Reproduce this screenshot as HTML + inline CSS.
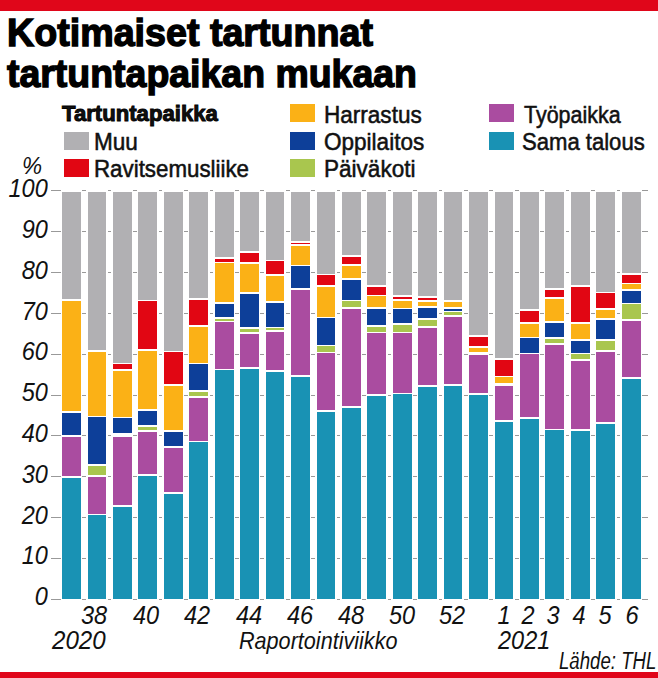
<!DOCTYPE html>
<html><head><meta charset="utf-8">
<style>
html,body{margin:0;padding:0;background:#fff;}
body{width:658px;height:678px;position:relative;overflow:hidden;font-family:"Liberation Sans",sans-serif;color:#111;}
.gl{position:absolute;height:1px;background:#999;}
.s{position:absolute;}
.tx{position:absolute;white-space:nowrap;transform-origin:0 0;line-height:1;}
.sq{position:absolute;width:25px;height:18px;}
.it{font-style:italic;}
.lg{font-size:24.5px;transform:scaleX(0.92);-webkit-text-stroke:0.55px #111;}
</style></head><body>
<div style="position:absolute;left:0;top:0;width:658px;height:11px;background:#e0061a"></div>
<div style="position:absolute;left:0;top:672px;width:658px;height:6px;background:#e0061a"></div>
<div class="tx" id="t1" style="left:7px;top:13.1px;font-size:39.5px;font-weight:bold;-webkit-text-stroke:1.4px #000;color:#000;transform:scaleX(0.953)">Kotimaiset tartunnat</div>
<div class="tx" id="t2" style="left:7px;top:54.1px;font-size:39.5px;font-weight:bold;-webkit-text-stroke:1.4px #000;color:#000;transform:scaleX(0.948)">tartuntapaikan mukaan</div>
<div class="tx" id="lh" style="left:61.5px;top:104px;font-size:21.5px;font-weight:bold;-webkit-text-stroke:0.9px #000;transform:scaleX(1.03)">Tartuntapaikka</div>
<div class="sq" style="left:63.5px;top:131.5px;background:#b1b0b3"></div>
<div class="sq" style="left:63.5px;top:159px;background:#e10613"></div>
<div class="sq" style="left:290px;top:103.5px;background:#fbb116"></div>
<div class="sq" style="left:290px;top:131.5px;background:#0d3f99"></div>
<div class="sq" style="left:290px;top:159px;background:#a9c64e"></div>
<div class="sq" style="left:489px;top:103.5px;background:#aa4ca0"></div>
<div class="sq" style="left:489px;top:131.5px;background:#1992b4"></div>
<div class="tx lg" id="l1" style="left:94px;top:130px">Muu</div>
<div class="tx lg" id="l2" style="left:94px;top:157px;transform:scaleX(0.911)">Ravitsemusliike</div>
<div class="tx lg" id="l3" style="left:324px;top:102.5px">Harrastus</div>
<div class="tx lg" id="l4" style="left:324px;top:130px">Oppilaitos</div>
<div class="tx lg" id="l5" style="left:324px;top:157px">Päiväkoti</div>
<div class="tx lg" id="l6" style="left:523.5px;top:102.5px;transform:scaleX(0.876)">Työpaikka</div>
<div class="tx lg" id="l7" style="left:522.3px;top:130px;transform:scaleX(0.901)">Sama talous</div>
<div class="gl" style="left:51px;top:599px;width:10px"></div>
<div class="gl" style="left:82.40px;top:599px;width:3.64px"></div>
<div class="gl" style="left:107.84px;top:599px;width:3.64px"></div>
<div class="gl" style="left:133.28px;top:599px;width:3.64px"></div>
<div class="gl" style="left:158.72px;top:599px;width:3.64px"></div>
<div class="gl" style="left:184.16px;top:599px;width:3.64px"></div>
<div class="gl" style="left:209.60px;top:599px;width:3.64px"></div>
<div class="gl" style="left:235.04px;top:599px;width:3.64px"></div>
<div class="gl" style="left:260.48px;top:599px;width:3.64px"></div>
<div class="gl" style="left:285.92px;top:599px;width:3.64px"></div>
<div class="gl" style="left:311.36px;top:599px;width:3.64px"></div>
<div class="gl" style="left:336.80px;top:599px;width:3.64px"></div>
<div class="gl" style="left:362.24px;top:599px;width:3.64px"></div>
<div class="gl" style="left:387.68px;top:599px;width:3.64px"></div>
<div class="gl" style="left:413.12px;top:599px;width:3.64px"></div>
<div class="gl" style="left:438.56px;top:599px;width:3.64px"></div>
<div class="gl" style="left:464.00px;top:599px;width:3.64px"></div>
<div class="gl" style="left:489.44px;top:599px;width:3.64px"></div>
<div class="gl" style="left:514.88px;top:599px;width:3.64px"></div>
<div class="gl" style="left:540.32px;top:599px;width:3.64px"></div>
<div class="gl" style="left:565.76px;top:599px;width:3.64px"></div>
<div class="gl" style="left:591.20px;top:599px;width:3.64px"></div>
<div class="gl" style="left:616.64px;top:599px;width:3.64px"></div>
<div class="gl" style="left:642.08px;top:599px;width:5.62px"></div>
<div class="gl" style="left:51px;top:558px;width:10px"></div>
<div class="gl" style="left:82.40px;top:558px;width:3.64px"></div>
<div class="gl" style="left:107.84px;top:558px;width:3.64px"></div>
<div class="gl" style="left:133.28px;top:558px;width:3.64px"></div>
<div class="gl" style="left:158.72px;top:558px;width:3.64px"></div>
<div class="gl" style="left:184.16px;top:558px;width:3.64px"></div>
<div class="gl" style="left:209.60px;top:558px;width:3.64px"></div>
<div class="gl" style="left:235.04px;top:558px;width:3.64px"></div>
<div class="gl" style="left:260.48px;top:558px;width:3.64px"></div>
<div class="gl" style="left:285.92px;top:558px;width:3.64px"></div>
<div class="gl" style="left:311.36px;top:558px;width:3.64px"></div>
<div class="gl" style="left:336.80px;top:558px;width:3.64px"></div>
<div class="gl" style="left:362.24px;top:558px;width:3.64px"></div>
<div class="gl" style="left:387.68px;top:558px;width:3.64px"></div>
<div class="gl" style="left:413.12px;top:558px;width:3.64px"></div>
<div class="gl" style="left:438.56px;top:558px;width:3.64px"></div>
<div class="gl" style="left:464.00px;top:558px;width:3.64px"></div>
<div class="gl" style="left:489.44px;top:558px;width:3.64px"></div>
<div class="gl" style="left:514.88px;top:558px;width:3.64px"></div>
<div class="gl" style="left:540.32px;top:558px;width:3.64px"></div>
<div class="gl" style="left:565.76px;top:558px;width:3.64px"></div>
<div class="gl" style="left:591.20px;top:558px;width:3.64px"></div>
<div class="gl" style="left:616.64px;top:558px;width:3.64px"></div>
<div class="gl" style="left:642.08px;top:558px;width:5.62px"></div>
<div class="gl" style="left:51px;top:517px;width:10px"></div>
<div class="gl" style="left:82.40px;top:517px;width:3.64px"></div>
<div class="gl" style="left:107.84px;top:517px;width:3.64px"></div>
<div class="gl" style="left:133.28px;top:517px;width:3.64px"></div>
<div class="gl" style="left:158.72px;top:517px;width:3.64px"></div>
<div class="gl" style="left:184.16px;top:517px;width:3.64px"></div>
<div class="gl" style="left:209.60px;top:517px;width:3.64px"></div>
<div class="gl" style="left:235.04px;top:517px;width:3.64px"></div>
<div class="gl" style="left:260.48px;top:517px;width:3.64px"></div>
<div class="gl" style="left:285.92px;top:517px;width:3.64px"></div>
<div class="gl" style="left:311.36px;top:517px;width:3.64px"></div>
<div class="gl" style="left:336.80px;top:517px;width:3.64px"></div>
<div class="gl" style="left:362.24px;top:517px;width:3.64px"></div>
<div class="gl" style="left:387.68px;top:517px;width:3.64px"></div>
<div class="gl" style="left:413.12px;top:517px;width:3.64px"></div>
<div class="gl" style="left:438.56px;top:517px;width:3.64px"></div>
<div class="gl" style="left:464.00px;top:517px;width:3.64px"></div>
<div class="gl" style="left:489.44px;top:517px;width:3.64px"></div>
<div class="gl" style="left:514.88px;top:517px;width:3.64px"></div>
<div class="gl" style="left:540.32px;top:517px;width:3.64px"></div>
<div class="gl" style="left:565.76px;top:517px;width:3.64px"></div>
<div class="gl" style="left:591.20px;top:517px;width:3.64px"></div>
<div class="gl" style="left:616.64px;top:517px;width:3.64px"></div>
<div class="gl" style="left:642.08px;top:517px;width:5.62px"></div>
<div class="gl" style="left:51px;top:476px;width:10px"></div>
<div class="gl" style="left:82.40px;top:476px;width:3.64px"></div>
<div class="gl" style="left:107.84px;top:476px;width:3.64px"></div>
<div class="gl" style="left:133.28px;top:476px;width:3.64px"></div>
<div class="gl" style="left:158.72px;top:476px;width:3.64px"></div>
<div class="gl" style="left:184.16px;top:476px;width:3.64px"></div>
<div class="gl" style="left:209.60px;top:476px;width:3.64px"></div>
<div class="gl" style="left:235.04px;top:476px;width:3.64px"></div>
<div class="gl" style="left:260.48px;top:476px;width:3.64px"></div>
<div class="gl" style="left:285.92px;top:476px;width:3.64px"></div>
<div class="gl" style="left:311.36px;top:476px;width:3.64px"></div>
<div class="gl" style="left:336.80px;top:476px;width:3.64px"></div>
<div class="gl" style="left:362.24px;top:476px;width:3.64px"></div>
<div class="gl" style="left:387.68px;top:476px;width:3.64px"></div>
<div class="gl" style="left:413.12px;top:476px;width:3.64px"></div>
<div class="gl" style="left:438.56px;top:476px;width:3.64px"></div>
<div class="gl" style="left:464.00px;top:476px;width:3.64px"></div>
<div class="gl" style="left:489.44px;top:476px;width:3.64px"></div>
<div class="gl" style="left:514.88px;top:476px;width:3.64px"></div>
<div class="gl" style="left:540.32px;top:476px;width:3.64px"></div>
<div class="gl" style="left:565.76px;top:476px;width:3.64px"></div>
<div class="gl" style="left:591.20px;top:476px;width:3.64px"></div>
<div class="gl" style="left:616.64px;top:476px;width:3.64px"></div>
<div class="gl" style="left:642.08px;top:476px;width:5.62px"></div>
<div class="gl" style="left:51px;top:435px;width:10px"></div>
<div class="gl" style="left:82.40px;top:435px;width:3.64px"></div>
<div class="gl" style="left:107.84px;top:435px;width:3.64px"></div>
<div class="gl" style="left:133.28px;top:435px;width:3.64px"></div>
<div class="gl" style="left:158.72px;top:435px;width:3.64px"></div>
<div class="gl" style="left:184.16px;top:435px;width:3.64px"></div>
<div class="gl" style="left:209.60px;top:435px;width:3.64px"></div>
<div class="gl" style="left:235.04px;top:435px;width:3.64px"></div>
<div class="gl" style="left:260.48px;top:435px;width:3.64px"></div>
<div class="gl" style="left:285.92px;top:435px;width:3.64px"></div>
<div class="gl" style="left:311.36px;top:435px;width:3.64px"></div>
<div class="gl" style="left:336.80px;top:435px;width:3.64px"></div>
<div class="gl" style="left:362.24px;top:435px;width:3.64px"></div>
<div class="gl" style="left:387.68px;top:435px;width:3.64px"></div>
<div class="gl" style="left:413.12px;top:435px;width:3.64px"></div>
<div class="gl" style="left:438.56px;top:435px;width:3.64px"></div>
<div class="gl" style="left:464.00px;top:435px;width:3.64px"></div>
<div class="gl" style="left:489.44px;top:435px;width:3.64px"></div>
<div class="gl" style="left:514.88px;top:435px;width:3.64px"></div>
<div class="gl" style="left:540.32px;top:435px;width:3.64px"></div>
<div class="gl" style="left:565.76px;top:435px;width:3.64px"></div>
<div class="gl" style="left:591.20px;top:435px;width:3.64px"></div>
<div class="gl" style="left:616.64px;top:435px;width:3.64px"></div>
<div class="gl" style="left:642.08px;top:435px;width:5.62px"></div>
<div class="gl" style="left:51px;top:395px;width:10px"></div>
<div class="gl" style="left:82.40px;top:395px;width:3.64px"></div>
<div class="gl" style="left:107.84px;top:395px;width:3.64px"></div>
<div class="gl" style="left:133.28px;top:395px;width:3.64px"></div>
<div class="gl" style="left:158.72px;top:395px;width:3.64px"></div>
<div class="gl" style="left:184.16px;top:395px;width:3.64px"></div>
<div class="gl" style="left:209.60px;top:395px;width:3.64px"></div>
<div class="gl" style="left:235.04px;top:395px;width:3.64px"></div>
<div class="gl" style="left:260.48px;top:395px;width:3.64px"></div>
<div class="gl" style="left:285.92px;top:395px;width:3.64px"></div>
<div class="gl" style="left:311.36px;top:395px;width:3.64px"></div>
<div class="gl" style="left:336.80px;top:395px;width:3.64px"></div>
<div class="gl" style="left:362.24px;top:395px;width:3.64px"></div>
<div class="gl" style="left:387.68px;top:395px;width:3.64px"></div>
<div class="gl" style="left:413.12px;top:395px;width:3.64px"></div>
<div class="gl" style="left:438.56px;top:395px;width:3.64px"></div>
<div class="gl" style="left:464.00px;top:395px;width:3.64px"></div>
<div class="gl" style="left:489.44px;top:395px;width:3.64px"></div>
<div class="gl" style="left:514.88px;top:395px;width:3.64px"></div>
<div class="gl" style="left:540.32px;top:395px;width:3.64px"></div>
<div class="gl" style="left:565.76px;top:395px;width:3.64px"></div>
<div class="gl" style="left:591.20px;top:395px;width:3.64px"></div>
<div class="gl" style="left:616.64px;top:395px;width:3.64px"></div>
<div class="gl" style="left:642.08px;top:395px;width:5.62px"></div>
<div class="gl" style="left:51px;top:354px;width:10px"></div>
<div class="gl" style="left:82.40px;top:354px;width:3.64px"></div>
<div class="gl" style="left:107.84px;top:354px;width:3.64px"></div>
<div class="gl" style="left:133.28px;top:354px;width:3.64px"></div>
<div class="gl" style="left:158.72px;top:354px;width:3.64px"></div>
<div class="gl" style="left:184.16px;top:354px;width:3.64px"></div>
<div class="gl" style="left:209.60px;top:354px;width:3.64px"></div>
<div class="gl" style="left:235.04px;top:354px;width:3.64px"></div>
<div class="gl" style="left:260.48px;top:354px;width:3.64px"></div>
<div class="gl" style="left:285.92px;top:354px;width:3.64px"></div>
<div class="gl" style="left:311.36px;top:354px;width:3.64px"></div>
<div class="gl" style="left:336.80px;top:354px;width:3.64px"></div>
<div class="gl" style="left:362.24px;top:354px;width:3.64px"></div>
<div class="gl" style="left:387.68px;top:354px;width:3.64px"></div>
<div class="gl" style="left:413.12px;top:354px;width:3.64px"></div>
<div class="gl" style="left:438.56px;top:354px;width:3.64px"></div>
<div class="gl" style="left:464.00px;top:354px;width:3.64px"></div>
<div class="gl" style="left:489.44px;top:354px;width:3.64px"></div>
<div class="gl" style="left:514.88px;top:354px;width:3.64px"></div>
<div class="gl" style="left:540.32px;top:354px;width:3.64px"></div>
<div class="gl" style="left:565.76px;top:354px;width:3.64px"></div>
<div class="gl" style="left:591.20px;top:354px;width:3.64px"></div>
<div class="gl" style="left:616.64px;top:354px;width:3.64px"></div>
<div class="gl" style="left:642.08px;top:354px;width:5.62px"></div>
<div class="gl" style="left:51px;top:313px;width:10px"></div>
<div class="gl" style="left:82.40px;top:313px;width:3.64px"></div>
<div class="gl" style="left:107.84px;top:313px;width:3.64px"></div>
<div class="gl" style="left:133.28px;top:313px;width:3.64px"></div>
<div class="gl" style="left:158.72px;top:313px;width:3.64px"></div>
<div class="gl" style="left:184.16px;top:313px;width:3.64px"></div>
<div class="gl" style="left:209.60px;top:313px;width:3.64px"></div>
<div class="gl" style="left:235.04px;top:313px;width:3.64px"></div>
<div class="gl" style="left:260.48px;top:313px;width:3.64px"></div>
<div class="gl" style="left:285.92px;top:313px;width:3.64px"></div>
<div class="gl" style="left:311.36px;top:313px;width:3.64px"></div>
<div class="gl" style="left:336.80px;top:313px;width:3.64px"></div>
<div class="gl" style="left:362.24px;top:313px;width:3.64px"></div>
<div class="gl" style="left:387.68px;top:313px;width:3.64px"></div>
<div class="gl" style="left:413.12px;top:313px;width:3.64px"></div>
<div class="gl" style="left:438.56px;top:313px;width:3.64px"></div>
<div class="gl" style="left:464.00px;top:313px;width:3.64px"></div>
<div class="gl" style="left:489.44px;top:313px;width:3.64px"></div>
<div class="gl" style="left:514.88px;top:313px;width:3.64px"></div>
<div class="gl" style="left:540.32px;top:313px;width:3.64px"></div>
<div class="gl" style="left:565.76px;top:313px;width:3.64px"></div>
<div class="gl" style="left:591.20px;top:313px;width:3.64px"></div>
<div class="gl" style="left:616.64px;top:313px;width:3.64px"></div>
<div class="gl" style="left:642.08px;top:313px;width:5.62px"></div>
<div class="gl" style="left:51px;top:272px;width:10px"></div>
<div class="gl" style="left:82.40px;top:272px;width:3.64px"></div>
<div class="gl" style="left:107.84px;top:272px;width:3.64px"></div>
<div class="gl" style="left:133.28px;top:272px;width:3.64px"></div>
<div class="gl" style="left:158.72px;top:272px;width:3.64px"></div>
<div class="gl" style="left:184.16px;top:272px;width:3.64px"></div>
<div class="gl" style="left:209.60px;top:272px;width:3.64px"></div>
<div class="gl" style="left:235.04px;top:272px;width:3.64px"></div>
<div class="gl" style="left:260.48px;top:272px;width:3.64px"></div>
<div class="gl" style="left:285.92px;top:272px;width:3.64px"></div>
<div class="gl" style="left:311.36px;top:272px;width:3.64px"></div>
<div class="gl" style="left:336.80px;top:272px;width:3.64px"></div>
<div class="gl" style="left:362.24px;top:272px;width:3.64px"></div>
<div class="gl" style="left:387.68px;top:272px;width:3.64px"></div>
<div class="gl" style="left:413.12px;top:272px;width:3.64px"></div>
<div class="gl" style="left:438.56px;top:272px;width:3.64px"></div>
<div class="gl" style="left:464.00px;top:272px;width:3.64px"></div>
<div class="gl" style="left:489.44px;top:272px;width:3.64px"></div>
<div class="gl" style="left:514.88px;top:272px;width:3.64px"></div>
<div class="gl" style="left:540.32px;top:272px;width:3.64px"></div>
<div class="gl" style="left:565.76px;top:272px;width:3.64px"></div>
<div class="gl" style="left:591.20px;top:272px;width:3.64px"></div>
<div class="gl" style="left:616.64px;top:272px;width:3.64px"></div>
<div class="gl" style="left:642.08px;top:272px;width:5.62px"></div>
<div class="gl" style="left:51px;top:231px;width:10px"></div>
<div class="gl" style="left:82.40px;top:231px;width:3.64px"></div>
<div class="gl" style="left:107.84px;top:231px;width:3.64px"></div>
<div class="gl" style="left:133.28px;top:231px;width:3.64px"></div>
<div class="gl" style="left:158.72px;top:231px;width:3.64px"></div>
<div class="gl" style="left:184.16px;top:231px;width:3.64px"></div>
<div class="gl" style="left:209.60px;top:231px;width:3.64px"></div>
<div class="gl" style="left:235.04px;top:231px;width:3.64px"></div>
<div class="gl" style="left:260.48px;top:231px;width:3.64px"></div>
<div class="gl" style="left:285.92px;top:231px;width:3.64px"></div>
<div class="gl" style="left:311.36px;top:231px;width:3.64px"></div>
<div class="gl" style="left:336.80px;top:231px;width:3.64px"></div>
<div class="gl" style="left:362.24px;top:231px;width:3.64px"></div>
<div class="gl" style="left:387.68px;top:231px;width:3.64px"></div>
<div class="gl" style="left:413.12px;top:231px;width:3.64px"></div>
<div class="gl" style="left:438.56px;top:231px;width:3.64px"></div>
<div class="gl" style="left:464.00px;top:231px;width:3.64px"></div>
<div class="gl" style="left:489.44px;top:231px;width:3.64px"></div>
<div class="gl" style="left:514.88px;top:231px;width:3.64px"></div>
<div class="gl" style="left:540.32px;top:231px;width:3.64px"></div>
<div class="gl" style="left:565.76px;top:231px;width:3.64px"></div>
<div class="gl" style="left:591.20px;top:231px;width:3.64px"></div>
<div class="gl" style="left:616.64px;top:231px;width:3.64px"></div>
<div class="gl" style="left:642.08px;top:231px;width:5.62px"></div>
<div class="gl" style="left:51px;top:190px;width:10px"></div>
<div class="gl" style="left:82.40px;top:190px;width:3.64px"></div>
<div class="gl" style="left:107.84px;top:190px;width:3.64px"></div>
<div class="gl" style="left:133.28px;top:190px;width:3.64px"></div>
<div class="gl" style="left:158.72px;top:190px;width:3.64px"></div>
<div class="gl" style="left:184.16px;top:190px;width:3.64px"></div>
<div class="gl" style="left:209.60px;top:190px;width:3.64px"></div>
<div class="gl" style="left:235.04px;top:190px;width:3.64px"></div>
<div class="gl" style="left:260.48px;top:190px;width:3.64px"></div>
<div class="gl" style="left:285.92px;top:190px;width:3.64px"></div>
<div class="gl" style="left:311.36px;top:190px;width:3.64px"></div>
<div class="gl" style="left:336.80px;top:190px;width:3.64px"></div>
<div class="gl" style="left:362.24px;top:190px;width:3.64px"></div>
<div class="gl" style="left:387.68px;top:190px;width:3.64px"></div>
<div class="gl" style="left:413.12px;top:190px;width:3.64px"></div>
<div class="gl" style="left:438.56px;top:190px;width:3.64px"></div>
<div class="gl" style="left:464.00px;top:190px;width:3.64px"></div>
<div class="gl" style="left:489.44px;top:190px;width:3.64px"></div>
<div class="gl" style="left:514.88px;top:190px;width:3.64px"></div>
<div class="gl" style="left:540.32px;top:190px;width:3.64px"></div>
<div class="gl" style="left:565.76px;top:190px;width:3.64px"></div>
<div class="gl" style="left:591.20px;top:190px;width:3.64px"></div>
<div class="gl" style="left:616.64px;top:190px;width:3.64px"></div>
<div class="gl" style="left:642.08px;top:190px;width:5.62px"></div>
<div class="s" style="left:62.10px;top:191.60px;width:18.8px;height:107.35px;background:#b1b0b3"></div>
<div class="s" style="left:62.10px;top:300.65px;width:18.8px;height:110.40px;background:#fbb116"></div>
<div class="s" style="left:62.10px;top:412.75px;width:18.8px;height:22.60px;background:#0d3f99"></div>
<div class="s" style="left:62.10px;top:437.05px;width:18.8px;height:38.80px;background:#aa4ca0"></div>
<div class="s" style="left:62.10px;top:477.55px;width:18.8px;height:121.45px;background:#1992b4"></div>
<div class="s" style="left:87.54px;top:191.60px;width:18.8px;height:158.65px;background:#b1b0b3"></div>
<div class="s" style="left:87.54px;top:351.95px;width:18.8px;height:63.60px;background:#fbb116"></div>
<div class="s" style="left:87.54px;top:417.25px;width:18.8px;height:47.10px;background:#0d3f99"></div>
<div class="s" style="left:87.54px;top:466.05px;width:18.8px;height:9.20px;background:#a9c64e"></div>
<div class="s" style="left:87.54px;top:476.95px;width:18.8px;height:36.80px;background:#aa4ca0"></div>
<div class="s" style="left:87.54px;top:515.45px;width:18.8px;height:83.55px;background:#1992b4"></div>
<div class="s" style="left:112.98px;top:191.60px;width:18.8px;height:170.95px;background:#b1b0b3"></div>
<div class="s" style="left:112.98px;top:364.25px;width:18.8px;height:4.80px;background:#e10613"></div>
<div class="s" style="left:112.98px;top:370.75px;width:18.8px;height:45.80px;background:#fbb116"></div>
<div class="s" style="left:112.98px;top:418.25px;width:18.8px;height:14.55px;background:#0d3f99"></div>
<div class="s" style="left:112.98px;top:436.90px;width:18.8px;height:67.95px;background:#aa4ca0"></div>
<div class="s" style="left:112.98px;top:506.55px;width:18.8px;height:92.45px;background:#1992b4"></div>
<div class="s" style="left:138.42px;top:191.60px;width:18.8px;height:107.95px;background:#b1b0b3"></div>
<div class="s" style="left:138.42px;top:301.25px;width:18.8px;height:48.10px;background:#e10613"></div>
<div class="s" style="left:138.42px;top:351.05px;width:18.8px;height:58.40px;background:#fbb116"></div>
<div class="s" style="left:138.42px;top:411.15px;width:18.8px;height:13.70px;background:#0d3f99"></div>
<div class="s" style="left:138.42px;top:426.55px;width:18.8px;height:3.60px;background:#a9c64e"></div>
<div class="s" style="left:138.42px;top:431.85px;width:18.8px;height:42.00px;background:#aa4ca0"></div>
<div class="s" style="left:138.42px;top:475.55px;width:18.8px;height:123.45px;background:#1992b4"></div>
<div class="s" style="left:163.86px;top:191.60px;width:18.8px;height:159.05px;background:#b1b0b3"></div>
<div class="s" style="left:163.86px;top:352.35px;width:18.8px;height:31.90px;background:#e10613"></div>
<div class="s" style="left:163.86px;top:385.95px;width:18.8px;height:44.20px;background:#fbb116"></div>
<div class="s" style="left:163.86px;top:431.85px;width:18.8px;height:14.10px;background:#0d3f99"></div>
<div class="s" style="left:163.86px;top:447.65px;width:18.8px;height:44.80px;background:#aa4ca0"></div>
<div class="s" style="left:163.86px;top:494.15px;width:18.8px;height:104.85px;background:#1992b4"></div>
<div class="s" style="left:189.30px;top:191.60px;width:18.8px;height:106.75px;background:#b1b0b3"></div>
<div class="s" style="left:189.30px;top:300.05px;width:18.8px;height:25.30px;background:#e10613"></div>
<div class="s" style="left:189.30px;top:327.05px;width:18.8px;height:35.70px;background:#fbb116"></div>
<div class="s" style="left:189.30px;top:364.45px;width:18.8px;height:26.00px;background:#0d3f99"></div>
<div class="s" style="left:189.30px;top:392.15px;width:18.8px;height:4.20px;background:#a9c64e"></div>
<div class="s" style="left:189.30px;top:398.05px;width:18.8px;height:42.60px;background:#aa4ca0"></div>
<div class="s" style="left:189.30px;top:442.35px;width:18.8px;height:156.65px;background:#1992b4"></div>
<div class="s" style="left:214.74px;top:191.60px;width:18.8px;height:65.65px;background:#b1b0b3"></div>
<div class="s" style="left:214.74px;top:258.95px;width:18.8px;height:2.80px;background:#e10613"></div>
<div class="s" style="left:214.74px;top:263.45px;width:18.8px;height:38.40px;background:#fbb116"></div>
<div class="s" style="left:214.74px;top:303.55px;width:18.8px;height:13.70px;background:#0d3f99"></div>
<div class="s" style="left:214.74px;top:318.95px;width:18.8px;height:1.70px;background:#a9c64e"></div>
<div class="s" style="left:214.74px;top:322.35px;width:18.8px;height:46.40px;background:#aa4ca0"></div>
<div class="s" style="left:214.74px;top:370.45px;width:18.8px;height:228.55px;background:#1992b4"></div>
<div class="s" style="left:240.18px;top:191.60px;width:18.8px;height:59.65px;background:#b1b0b3"></div>
<div class="s" style="left:240.18px;top:252.95px;width:18.8px;height:9.40px;background:#e10613"></div>
<div class="s" style="left:240.18px;top:264.05px;width:18.8px;height:28.30px;background:#fbb116"></div>
<div class="s" style="left:240.18px;top:294.05px;width:18.8px;height:33.20px;background:#0d3f99"></div>
<div class="s" style="left:240.18px;top:328.95px;width:18.8px;height:2.90px;background:#a9c64e"></div>
<div class="s" style="left:240.18px;top:333.55px;width:18.8px;height:33.80px;background:#aa4ca0"></div>
<div class="s" style="left:240.18px;top:369.05px;width:18.8px;height:229.95px;background:#1992b4"></div>
<div class="s" style="left:265.62px;top:191.60px;width:18.8px;height:68.15px;background:#b1b0b3"></div>
<div class="s" style="left:265.62px;top:261.45px;width:18.8px;height:12.60px;background:#e10613"></div>
<div class="s" style="left:265.62px;top:275.75px;width:18.8px;height:25.50px;background:#fbb116"></div>
<div class="s" style="left:265.62px;top:302.95px;width:18.8px;height:23.70px;background:#0d3f99"></div>
<div class="s" style="left:265.62px;top:328.35px;width:18.8px;height:1.90px;background:#a9c64e"></div>
<div class="s" style="left:265.62px;top:331.95px;width:18.8px;height:38.30px;background:#aa4ca0"></div>
<div class="s" style="left:265.62px;top:371.95px;width:18.8px;height:227.05px;background:#1992b4"></div>
<div class="s" style="left:291.06px;top:191.60px;width:18.8px;height:49.20px;background:#b1b0b3"></div>
<div class="s" style="left:291.06px;top:242.50px;width:18.8px;height:1.55px;background:#e10613"></div>
<div class="s" style="left:291.06px;top:245.75px;width:18.8px;height:19.00px;background:#fbb116"></div>
<div class="s" style="left:291.06px;top:266.45px;width:18.8px;height:22.00px;background:#0d3f99"></div>
<div class="s" style="left:291.06px;top:290.15px;width:18.8px;height:85.10px;background:#aa4ca0"></div>
<div class="s" style="left:291.06px;top:376.95px;width:18.8px;height:222.05px;background:#1992b4"></div>
<div class="s" style="left:316.50px;top:191.60px;width:18.8px;height:82.05px;background:#b1b0b3"></div>
<div class="s" style="left:316.50px;top:275.35px;width:18.8px;height:9.50px;background:#e10613"></div>
<div class="s" style="left:316.50px;top:286.55px;width:18.8px;height:30.00px;background:#fbb116"></div>
<div class="s" style="left:316.50px;top:318.25px;width:18.8px;height:26.40px;background:#0d3f99"></div>
<div class="s" style="left:316.50px;top:346.35px;width:18.8px;height:5.40px;background:#a9c64e"></div>
<div class="s" style="left:316.50px;top:353.45px;width:18.8px;height:56.70px;background:#aa4ca0"></div>
<div class="s" style="left:316.50px;top:411.85px;width:18.8px;height:187.15px;background:#1992b4"></div>
<div class="s" style="left:341.94px;top:191.60px;width:18.8px;height:63.25px;background:#b1b0b3"></div>
<div class="s" style="left:341.94px;top:256.55px;width:18.8px;height:7.80px;background:#e10613"></div>
<div class="s" style="left:341.94px;top:266.05px;width:18.8px;height:12.10px;background:#fbb116"></div>
<div class="s" style="left:341.94px;top:279.85px;width:18.8px;height:19.90px;background:#0d3f99"></div>
<div class="s" style="left:341.94px;top:301.45px;width:18.8px;height:5.80px;background:#a9c64e"></div>
<div class="s" style="left:341.94px;top:308.95px;width:18.8px;height:96.90px;background:#aa4ca0"></div>
<div class="s" style="left:341.94px;top:407.55px;width:18.8px;height:191.45px;background:#1992b4"></div>
<div class="s" style="left:367.38px;top:191.60px;width:18.8px;height:93.45px;background:#b1b0b3"></div>
<div class="s" style="left:367.38px;top:286.75px;width:18.8px;height:8.00px;background:#e10613"></div>
<div class="s" style="left:367.38px;top:296.45px;width:18.8px;height:10.80px;background:#fbb116"></div>
<div class="s" style="left:367.38px;top:308.95px;width:18.8px;height:16.40px;background:#0d3f99"></div>
<div class="s" style="left:367.38px;top:327.05px;width:18.8px;height:4.50px;background:#a9c64e"></div>
<div class="s" style="left:367.38px;top:333.25px;width:18.8px;height:60.70px;background:#aa4ca0"></div>
<div class="s" style="left:367.38px;top:395.65px;width:18.8px;height:203.35px;background:#1992b4"></div>
<div class="s" style="left:392.82px;top:191.60px;width:18.8px;height:103.35px;background:#b1b0b3"></div>
<div class="s" style="left:392.82px;top:296.65px;width:18.8px;height:2.70px;background:#e10613"></div>
<div class="s" style="left:392.82px;top:301.05px;width:18.8px;height:6.60px;background:#fbb116"></div>
<div class="s" style="left:392.82px;top:309.35px;width:18.8px;height:13.70px;background:#0d3f99"></div>
<div class="s" style="left:392.82px;top:324.75px;width:18.8px;height:6.80px;background:#a9c64e"></div>
<div class="s" style="left:392.82px;top:333.25px;width:18.8px;height:59.50px;background:#aa4ca0"></div>
<div class="s" style="left:392.82px;top:394.45px;width:18.8px;height:204.55px;background:#1992b4"></div>
<div class="s" style="left:418.26px;top:191.60px;width:18.8px;height:104.75px;background:#b1b0b3"></div>
<div class="s" style="left:418.26px;top:298.05px;width:18.8px;height:1.90px;background:#e10613"></div>
<div class="s" style="left:418.26px;top:301.65px;width:18.8px;height:4.20px;background:#fbb116"></div>
<div class="s" style="left:418.26px;top:307.55px;width:18.8px;height:10.50px;background:#0d3f99"></div>
<div class="s" style="left:418.26px;top:319.75px;width:18.8px;height:6.20px;background:#a9c64e"></div>
<div class="s" style="left:418.26px;top:327.65px;width:18.8px;height:57.40px;background:#aa4ca0"></div>
<div class="s" style="left:418.26px;top:386.75px;width:18.8px;height:212.25px;background:#1992b4"></div>
<div class="s" style="left:443.70px;top:191.60px;width:18.8px;height:108.75px;background:#b1b0b3"></div>
<div class="s" style="left:443.70px;top:302.05px;width:18.8px;height:5.30px;background:#fbb116"></div>
<div class="s" style="left:443.70px;top:309.05px;width:18.8px;height:1.60px;background:#0d3f99"></div>
<div class="s" style="left:443.70px;top:312.35px;width:18.8px;height:2.60px;background:#a9c64e"></div>
<div class="s" style="left:443.70px;top:316.65px;width:18.8px;height:67.60px;background:#aa4ca0"></div>
<div class="s" style="left:443.70px;top:385.95px;width:18.8px;height:213.05px;background:#1992b4"></div>
<div class="s" style="left:469.14px;top:191.60px;width:18.8px;height:143.25px;background:#b1b0b3"></div>
<div class="s" style="left:469.14px;top:336.55px;width:18.8px;height:9.90px;background:#e10613"></div>
<div class="s" style="left:469.14px;top:348.15px;width:18.8px;height:3.90px;background:#fbb116"></div>
<div class="s" style="left:469.14px;top:354.75px;width:18.8px;height:38.70px;background:#aa4ca0"></div>
<div class="s" style="left:469.14px;top:395.15px;width:18.8px;height:203.85px;background:#1992b4"></div>
<div class="s" style="left:494.58px;top:191.60px;width:18.8px;height:166.45px;background:#b1b0b3"></div>
<div class="s" style="left:494.58px;top:359.75px;width:18.8px;height:16.00px;background:#e10613"></div>
<div class="s" style="left:494.58px;top:377.45px;width:18.8px;height:5.65px;background:#fbb116"></div>
<div class="s" style="left:494.58px;top:386.00px;width:18.8px;height:34.15px;background:#aa4ca0"></div>
<div class="s" style="left:494.58px;top:421.85px;width:18.8px;height:177.15px;background:#1992b4"></div>
<div class="s" style="left:520.02px;top:191.60px;width:18.8px;height:117.25px;background:#b1b0b3"></div>
<div class="s" style="left:520.02px;top:310.55px;width:18.8px;height:11.30px;background:#e10613"></div>
<div class="s" style="left:520.02px;top:323.55px;width:18.8px;height:13.10px;background:#fbb116"></div>
<div class="s" style="left:520.02px;top:338.35px;width:18.8px;height:14.20px;background:#0d3f99"></div>
<div class="s" style="left:520.02px;top:354.25px;width:18.8px;height:63.00px;background:#aa4ca0"></div>
<div class="s" style="left:520.02px;top:418.95px;width:18.8px;height:180.05px;background:#1992b4"></div>
<div class="s" style="left:545.46px;top:191.60px;width:18.8px;height:96.85px;background:#b1b0b3"></div>
<div class="s" style="left:545.46px;top:290.15px;width:18.8px;height:7.20px;background:#e10613"></div>
<div class="s" style="left:545.46px;top:299.05px;width:18.8px;height:21.80px;background:#fbb116"></div>
<div class="s" style="left:545.46px;top:322.55px;width:18.8px;height:14.80px;background:#0d3f99"></div>
<div class="s" style="left:545.46px;top:339.05px;width:18.8px;height:4.30px;background:#a9c64e"></div>
<div class="s" style="left:545.46px;top:345.05px;width:18.8px;height:83.50px;background:#aa4ca0"></div>
<div class="s" style="left:545.46px;top:430.25px;width:18.8px;height:168.75px;background:#1992b4"></div>
<div class="s" style="left:570.90px;top:191.60px;width:18.8px;height:93.45px;background:#b1b0b3"></div>
<div class="s" style="left:570.90px;top:286.75px;width:18.8px;height:35.10px;background:#e10613"></div>
<div class="s" style="left:570.90px;top:323.55px;width:18.8px;height:15.50px;background:#fbb116"></div>
<div class="s" style="left:570.90px;top:340.75px;width:18.8px;height:11.90px;background:#0d3f99"></div>
<div class="s" style="left:570.90px;top:354.35px;width:18.8px;height:5.00px;background:#a9c64e"></div>
<div class="s" style="left:570.90px;top:361.05px;width:18.8px;height:68.40px;background:#aa4ca0"></div>
<div class="s" style="left:570.90px;top:431.15px;width:18.8px;height:167.85px;background:#1992b4"></div>
<div class="s" style="left:596.34px;top:191.60px;width:18.8px;height:100.15px;background:#b1b0b3"></div>
<div class="s" style="left:596.34px;top:293.45px;width:18.8px;height:14.50px;background:#e10613"></div>
<div class="s" style="left:596.34px;top:309.65px;width:18.8px;height:8.80px;background:#fbb116"></div>
<div class="s" style="left:596.34px;top:320.15px;width:18.8px;height:19.20px;background:#0d3f99"></div>
<div class="s" style="left:596.34px;top:341.05px;width:18.8px;height:9.10px;background:#a9c64e"></div>
<div class="s" style="left:596.34px;top:351.85px;width:18.8px;height:70.60px;background:#aa4ca0"></div>
<div class="s" style="left:596.34px;top:424.15px;width:18.8px;height:174.85px;background:#1992b4"></div>
<div class="s" style="left:621.78px;top:191.60px;width:18.8px;height:81.75px;background:#b1b0b3"></div>
<div class="s" style="left:621.78px;top:275.05px;width:18.8px;height:7.50px;background:#e10613"></div>
<div class="s" style="left:621.78px;top:284.25px;width:18.8px;height:5.00px;background:#fbb116"></div>
<div class="s" style="left:621.78px;top:290.95px;width:18.8px;height:11.60px;background:#0d3f99"></div>
<div class="s" style="left:621.78px;top:304.25px;width:18.8px;height:14.60px;background:#a9c64e"></div>
<div class="s" style="left:621.78px;top:320.55px;width:18.8px;height:56.60px;background:#aa4ca0"></div>
<div class="s" style="left:621.78px;top:378.85px;width:18.8px;height:220.15px;background:#1992b4"></div>
<div class="tx it yl" style="right:610px;top:584.30px;font-size:25px;transform:scaleX(0.94);transform-origin:100% 0">0</div>
<div class="tx it yl" style="right:610px;top:543.48px;font-size:25px;transform:scaleX(0.94);transform-origin:100% 0">10</div>
<div class="tx it yl" style="right:610px;top:502.66px;font-size:25px;transform:scaleX(0.94);transform-origin:100% 0">20</div>
<div class="tx it yl" style="right:610px;top:461.84px;font-size:25px;transform:scaleX(0.94);transform-origin:100% 0">30</div>
<div class="tx it yl" style="right:610px;top:421.02px;font-size:25px;transform:scaleX(0.94);transform-origin:100% 0">40</div>
<div class="tx it yl" style="right:610px;top:380.20px;font-size:25px;transform:scaleX(0.94);transform-origin:100% 0">50</div>
<div class="tx it yl" style="right:610px;top:339.38px;font-size:25px;transform:scaleX(0.94);transform-origin:100% 0">60</div>
<div class="tx it yl" style="right:610px;top:298.56px;font-size:25px;transform:scaleX(0.94);transform-origin:100% 0">70</div>
<div class="tx it yl" style="right:610px;top:257.74px;font-size:25px;transform:scaleX(0.94);transform-origin:100% 0">80</div>
<div class="tx it yl" style="right:610px;top:216.92px;font-size:25px;transform:scaleX(0.94);transform-origin:100% 0">90</div>
<div class="tx it yl" style="right:610px;top:176.10px;font-size:25px;transform:scaleX(0.94);transform-origin:100% 0">100</div>
<div class="tx it" id="pct" style="left:22px;top:154px;font-size:24px;transform:scaleX(0.94)">%</div>
<div class="tx it xl" style="left:94.30px;top:603px;font-size:25px;transform:translateX(-50%) scaleX(0.94);transform-origin:50% 0">38</div>
<div class="tx it xl" style="left:146.10px;top:603px;font-size:25px;transform:translateX(-50%) scaleX(0.94);transform-origin:50% 0">40</div>
<div class="tx it xl" style="left:196.90px;top:603px;font-size:25px;transform:translateX(-50%) scaleX(0.94);transform-origin:50% 0">42</div>
<div class="tx it xl" style="left:248.60px;top:603px;font-size:25px;transform:translateX(-50%) scaleX(0.94);transform-origin:50% 0">44</div>
<div class="tx it xl" style="left:299.65px;top:603px;font-size:25px;transform:translateX(-50%) scaleX(0.94);transform-origin:50% 0">46</div>
<div class="tx it xl" style="left:350.85px;top:603px;font-size:25px;transform:translateX(-50%) scaleX(0.94);transform-origin:50% 0">48</div>
<div class="tx it xl" style="left:401.70px;top:603px;font-size:25px;transform:translateX(-50%) scaleX(0.94);transform-origin:50% 0">50</div>
<div class="tx it xl" style="left:452.10px;top:603px;font-size:25px;transform:translateX(-50%) scaleX(0.94);transform-origin:50% 0">52</div>
<div class="tx it xl" style="left:504.05px;top:603px;font-size:25px;transform:translateX(-50%) scaleX(0.94);transform-origin:50% 0">1</div>
<div class="tx it xl" style="left:527.75px;top:603px;font-size:25px;transform:translateX(-50%) scaleX(0.94);transform-origin:50% 0">2</div>
<div class="tx it xl" style="left:553.20px;top:603px;font-size:25px;transform:translateX(-50%) scaleX(0.94);transform-origin:50% 0">3</div>
<div class="tx it xl" style="left:579.30px;top:603px;font-size:25px;transform:translateX(-50%) scaleX(0.94);transform-origin:50% 0">4</div>
<div class="tx it xl" style="left:604.50px;top:603px;font-size:25px;transform:translateX(-50%) scaleX(0.94);transform-origin:50% 0">5</div>
<div class="tx it xl" style="left:632.45px;top:603px;font-size:25px;transform:translateX(-50%) scaleX(0.94);transform-origin:50% 0">6</div>
<div class="tx it" id="y20" style="left:52.2px;top:628px;font-size:25px;transform:scaleX(0.965)">2020</div>
<div class="tx it" id="rap" style="left:238.5px;top:628.8px;font-size:24px;transform:scaleX(0.9)">Raportointiviikko</div>
<div class="tx it" id="y21" style="left:498px;top:628px;font-size:25px;transform:scaleX(0.94)">2021</div>
<div class="tx it" id="lah" style="left:559px;top:650px;font-size:23px;transform:scaleX(0.81)">Lähde: THL</div>
</body></html>
